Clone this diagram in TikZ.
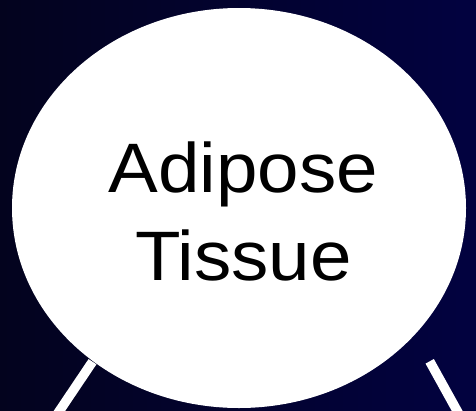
\documentclass[tikz,border=0pt]{standalone}
\usepackage{fontspec}
\setmainfont{Liberation Sans}
\usetikzlibrary{shapes.geometric}
\definecolor{bgleft}{RGB}{3,3,30}
\definecolor{bgright}{RGB}{2,2,64}
\tikzset{
  cell/.style={ellipse, fill=white, inner sep=0pt, outer sep=0pt},
  label70/.style={anchor=base, inner sep=0pt, font=\fontsize{70}{84}\selectfont, text=black},
  leg/.style={draw=white, line width=9.5pt, line cap=butt}
}
\begin{document}
\begin{tikzpicture}[x=1pt,y=-1pt]
\useasboundingbox (0,0) rectangle (476,410);
\shade[left color=bgleft, right color=bgright] (0,0) rectangle (476,410);
\node (cell) [cell, minimum width=454pt, minimum height=400pt] at (239,208) {};
\node (t1) [label70] at (243.5,192.7) {\scalebox{1.065}[1]{Adipose}};
\node (t2) [label70] at (243.5,280) {\scalebox{1.065}[1]{Tissue}};
\coordinate (l1) at (92.5,361.7);
\coordinate (l2) at (53.3,420);
\coordinate (r1) at (429.7,361.3);
\coordinate (r2) at (462.2,420);
\draw[leg] (l1) -- (l2);
\draw[leg] (r1) -- (r2);
\end{tikzpicture}
\end{document}
